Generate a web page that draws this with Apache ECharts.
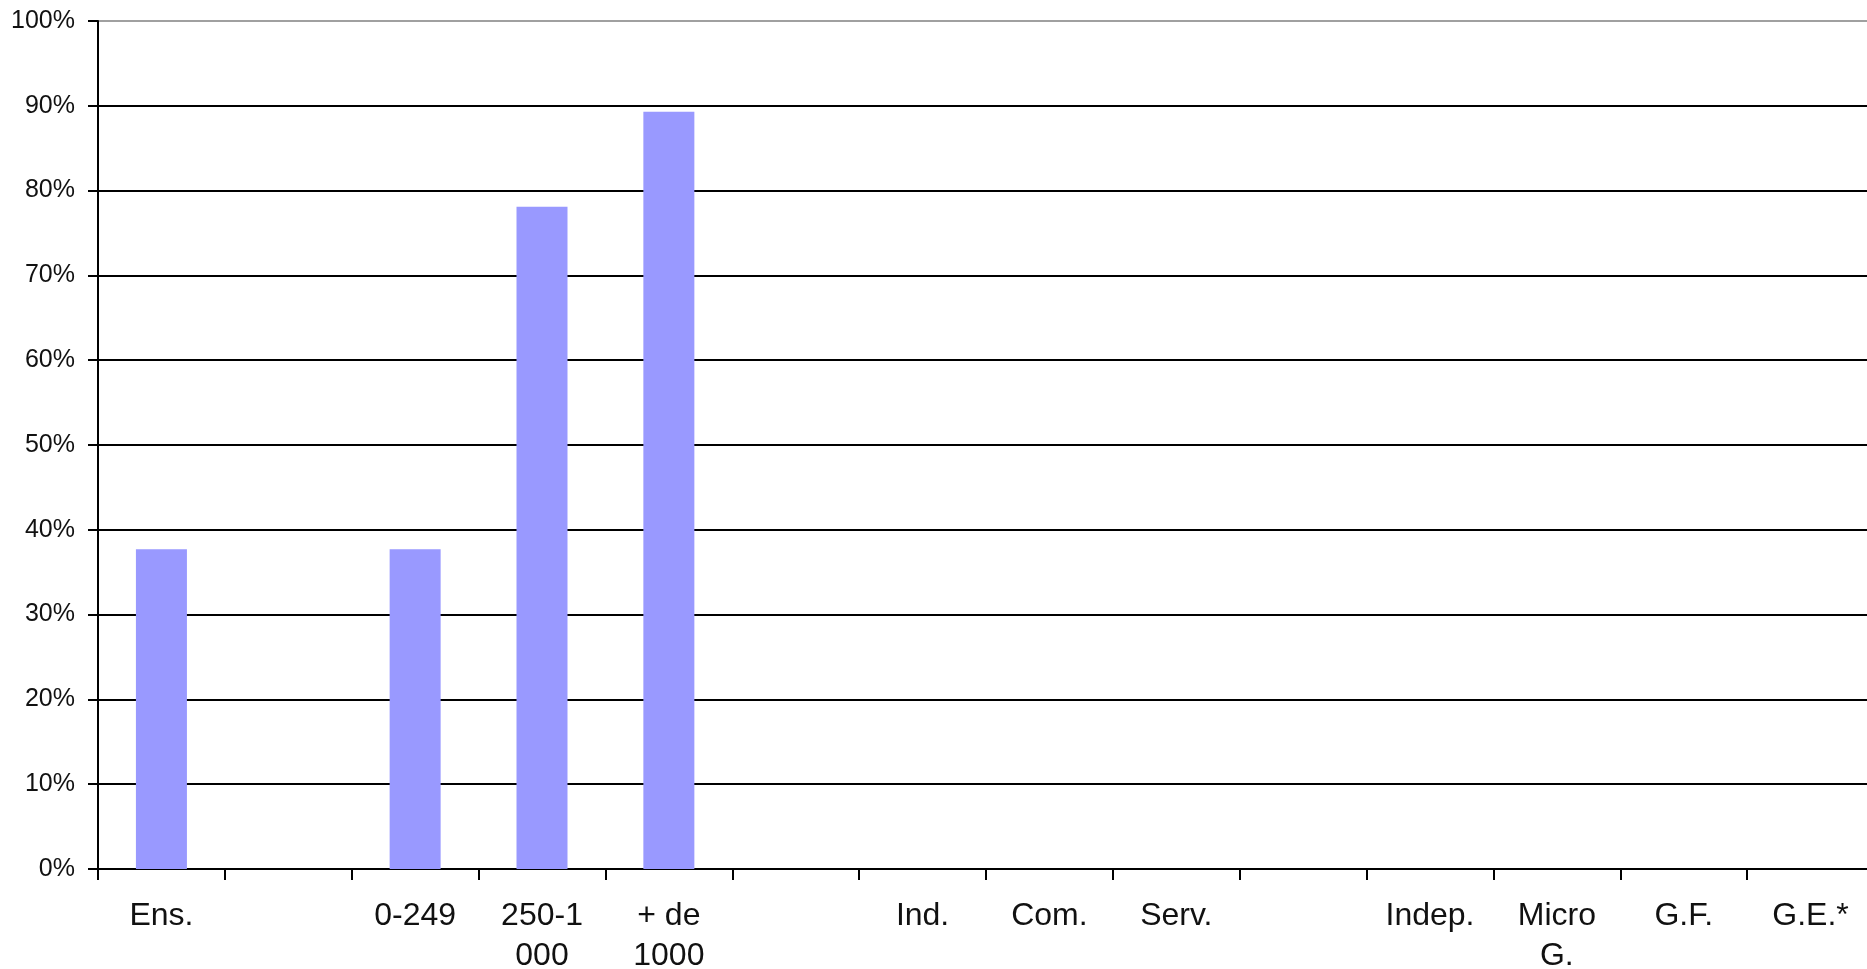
<!DOCTYPE html>
<html>
<head>
<meta charset="utf-8">
<script src="https://cdn.jsdelivr.net/npm/echarts@6/dist/echarts.min.js"></script>
<style>
html,body{margin:0;padding:0;background:#fff;}
#chart{width:1867px;height:969px;}
</style>
</head>
<body>
<div id="chart"></div>
<script>
const categories = ['Ens.', '', '0-249', '250-1\n000', '+ de\n1000', '', 'Ind.', 'Com.', 'Serv.', '', 'Indep.', 'Micro\nG.', 'G.F.', 'G.E.*'];
const values = [37.7, null, 37.7, 78.1, 89.3, null, null, null, null, null, null, null, null, null];
const yTicks = [0, 10, 20, 30, 40, 50, 60, 70, 80, 90, 100];

const chart = echarts.init(document.getElementById('chart'), null, {renderer: 'canvas'});
const gridColors = yTicks.map((t, i) => i === yTicks.length - 1 ? '#a0a0a0' : '#000');
chart.setOption({
  animation: false,
  backgroundColor: '#fff',
  grid: {left: 98, right: -7, top: 21, bottom: 100, containLabel: false, outerBoundsMode: 'none'},
  xAxis: {
    type: 'category',
    data: categories,
    boundaryGap: true,
    axisLine: {show: true, lineStyle: {color: '#000', width: 2}},
    axisTick: {show: true, length: 11, lineStyle: {color: '#000', width: 2}, alignWithLabel: false},
    axisLabel: {
      interval: 0,
      margin: 27,
      color: '#111',
      fontFamily: "'Liberation Sans', Arial, sans-serif",
      fontSize: 32,
      lineHeight: 40
    },
    splitLine: {show: false}
  },
  yAxis: {
    type: 'value',
    min: 0,
    max: 100,
    interval: 10,
    axisLine: {show: true, lineStyle: {color: '#000', width: 2}},
    axisTick: {show: true, length: 10, lineStyle: {color: '#000', width: 2}},
    axisLabel: {
      margin: 23,
      color: '#111',
      fontFamily: "'Liberation Sans', Arial, sans-serif",
      fontSize: 25,
      formatter: v => v + '%'
    },
    splitLine: {show: true, lineStyle: {color: gridColors, width: 2}}
  },
  series: [{
    type: 'bar',
    data: values,
    barWidth: 51,
    itemStyle: {color: '#9999FF'}
  }]
});
</script>
</body>
</html>
